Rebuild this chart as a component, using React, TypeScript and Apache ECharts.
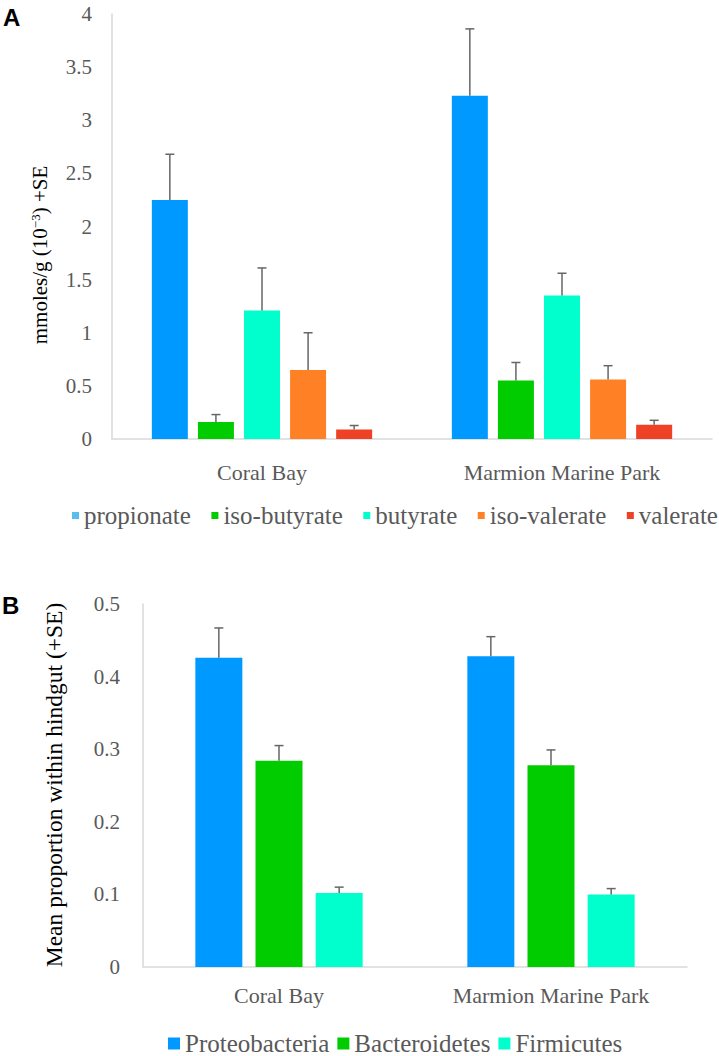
import React, { useEffect, useRef } from "react";
import * as echarts from "echarts";

const categories = ["Coral Bay", "Marmion Marine Park"];

// Panel A: volatile fatty acids (mmoles/g x10^-3)
const acidNames = ["propionate", "iso-butyrate", "butyrate", "iso-valerate", "valerate"];
const propionate = [2.25, 3.23];
const propionateSE = [0.43, 0.63];
const isoButyrate = [0.16, 0.55];
const isoButyrateSE = [0.07, 0.17];
const butyrate = [1.21, 1.35];
const butyrateSE = [0.4, 0.21];
const isoValerate = [0.65, 0.56];
const isoValerateSE = [0.35, 0.13];
const valerate = [0.09, 0.135];
const valerateSE = [0.037, 0.041];
const acidTicks = { min: 0, max: 4, interval: 0.5 };

// Panel B: phyla proportions
const phylaNames = ["Proteobacteria", "Bacteroidetes", "Firmicutes"];
const proteobacteria = [0.426, 0.428];
const proteobacteriaSE = [0.041, 0.027];
const bacteroidetes = [0.284, 0.278];
const bacteroidetesSE = [0.021, 0.021];
const firmicutes = [0.102, 0.1];
const firmicutesSE = [0.008, 0.008];
const phylaTicks = { min: 0, max: 0.5, interval: 0.1 };

const acidValues = [propionate, isoButyrate, butyrate, isoValerate, valerate];
const acidSE = [propionateSE, isoButyrateSE, butyrateSE, isoValerateSE, valerateSE];
const acidColors = ["#0099FF", "#00CC00", "#00FFCC", "#FF8025", "#EE4125"];
const phylaValues = [proteobacteria, bacteroidetes, firmicutes];
const phylaSE = [proteobacteriaSE, bacteroidetesSE, firmicutesSE];
const phylaColors = ["#0099FF", "#00CC00", "#00FFCC"];

const SERIF = "'Liberation Serif', 'Times New Roman', serif";
const GREY = "#595959";
const AXIS = "#D9D9D9";
const ERR = "#666666";

function errSeries(name: string, idx: number, n: number, bw: number, gap: number, axisIdx: number, vals: number[], ses: number[]) {
  return {
    type: "custom",
    name,
    xAxisIndex: axisIdx,
    yAxisIndex: axisIdx,
    z: 5,
    silent: true,
    data: vals.map((v, i) => [i, v, ses[i]]),
    encode: { x: 0, y: 1 },
    renderItem: (params: any, api: any) => {
      const cat = api.value(0);
      const v = api.value(1);
      const se = api.value(2);
      const base = api.coord([cat, v]);
      const top = api.coord([cat, v + se]);
      const off = (idx - (n - 1) / 2) * bw * (1 + gap);
      const x = base[0] + off;
      const st = { stroke: ERR, lineWidth: 1.5 };
      return {
        type: "group",
        children: [
          { type: "line", shape: { x1: x, y1: base[1], x2: x, y2: top[1] }, style: st },
          { type: "line", shape: { x1: x - 4.5, y1: top[1], x2: x + 4.5, y2: top[1] }, style: st },
        ],
      };
    },
  };
}

export default function App() {
  const ref = useRef<HTMLDivElement>(null);
  useEffect(() => {
    if (!ref.current) return;
    const chart = echarts.init(ref.current, undefined, { renderer: "svg" });
    const bwA = 36;
    const bwB = 47;
    const gap = 0.28;
    const series: any[] = [];
    acidNames.forEach((name, i) => {
      series.push({
        type: "bar",
        name,
        xAxisIndex: 0,
        yAxisIndex: 0,
        data: acidValues[i],
        barWidth: bwA,
        barGap: "28%",
        itemStyle: { color: acidColors[i] },
      });
    });
    acidNames.forEach((name, i) => {
      series.push(errSeries("errA-" + name, i, acidNames.length, bwA, gap, 0, acidValues[i], acidSE[i]));
    });
    phylaNames.forEach((name, i) => {
      series.push({
        type: "bar",
        name,
        xAxisIndex: 1,
        yAxisIndex: 1,
        data: phylaValues[i],
        barWidth: bwB,
        barGap: "28%",
        itemStyle: { color: phylaColors[i] },
      });
    });
    phylaNames.forEach((name, i) => {
      series.push(errSeries("errB-" + name, i, phylaNames.length, bwB, gap, 1, phylaValues[i], phylaSE[i]));
    });

    const catAxis = (gridIndex: number, margin: number) => ({
      type: "category",
      gridIndex,
      data: categories,
      axisLine: { show: true, lineStyle: { color: AXIS, width: 1.5 } },
      axisTick: { show: false },
      axisLabel: { color: GREY, fontFamily: SERIF, fontSize: 22, margin },
    });
    const valAxis = (gridIndex: number, t: any, margin: number) => ({
      type: "value",
      gridIndex,
      min: t.min,
      max: t.max,
      interval: t.interval,
      axisLine: { show: true, lineStyle: { color: AXIS, width: 1.5 } },
      axisTick: { show: false },
      splitLine: { show: false },
      axisLabel: { color: GREY, fontFamily: SERIF, fontSize: 21, margin },
    });

    chart.setOption({
      animation: false,
      backgroundColor: "#ffffff",
      grid: [
        { left: 112, top: 14, width: 600, height: 425 },
        { left: 143, top: 604, width: 544, height: 363 },
      ],
      xAxis: [catAxis(0, 22), catAxis(1, 17)],
      yAxis: [valAxis(0, acidTicks, 20), valAxis(1, phylaTicks, 23)],
      legend: [
        {
          left: 72,
          top: 503,
          width: 660,
          padding: 0,
          itemWidth: 7,
          itemHeight: 7,
          itemGap: 20.5,
          icon: "rect",
          textStyle: { color: GREY, fontFamily: SERIF, fontSize: 25 },
          data: acidNames.map((name, i) =>
            i === 0 ? { name, itemStyle: { color: "#55C0EE" } } : { name }
          ),
        },
        {
          left: 168,
          top: 1031,
          padding: 0,
          itemWidth: 12,
          itemHeight: 12,
          itemGap: 8,
          icon: "rect",
          textStyle: { color: GREY, fontFamily: SERIF, fontSize: 25 },
          data: phylaNames,
        },
      ],
      graphic: [
        {
          type: "text",
          x: 3,
          y: 5,
          style: { text: "A", fontFamily: "'Liberation Sans', Arial, sans-serif", fontWeight: "bold", fontSize: 24, fill: "#000" },
        },
        {
          type: "text",
          x: 2,
          y: 593,
          style: { text: "B", fontFamily: "'Liberation Sans', Arial, sans-serif", fontWeight: "bold", fontSize: 24, fill: "#000" },
        },
        {
          type: "text",
          x: 40,
          y: 255,
          rotation: Math.PI / 2,
          style: {
            text: "{a|mmoles/g (10}{s|−3}{a|) +SE}",
            align: "center",
            verticalAlign: "middle",
            rich: {
              a: { fontFamily: SERIF, fontSize: 21, fill: "#000", lineHeight: 22 },
              s: { fontFamily: SERIF, fontSize: 13, fill: "#000", verticalAlign: "top", lineHeight: 22 },
            },
          },
        },
        {
          type: "text",
          x: 54,
          y: 785,
          rotation: Math.PI / 2,
          style: {
            text: "Mean proportion within hindgut (+SE)",
            align: "center",
            verticalAlign: "middle",
            fontFamily: SERIF,
            fontSize: 23.5,
            fill: "#000",
          },
        },
      ],
      series,
    });
    return () => chart.dispose();
  }, []);
  return (
    <div
      ref={ref}
      style={{ position: "absolute", left: 0, top: 0, width: 719, height: 1056, background: "#fff" }}
    />
  );
}
